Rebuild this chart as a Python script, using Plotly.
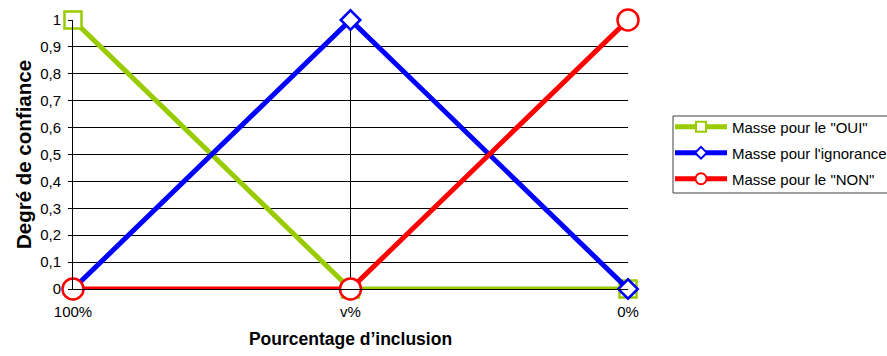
import plotly.graph_objects as go

# Categories along the inclusion axis
categories = ["100%", "v%", "0%"]
positions = [0, 1, 2]

# Masses for each hypothesis
masse_oui = [1, 0, 0]
masse_ignorance = [0, 1, 0]
masse_non = [0, 0, 1]

series_names = ['Masse pour le "OUI"', "Masse pour l'ignorance", 'Masse pour le "NON"']

y_ticks = [0, 0.1, 0.2, 0.3, 0.4, 0.5, 0.6, 0.7, 0.8, 0.9, 1]
y_ticktext = ["0", "0,1", "0,2", "0,3", "0,4", "0,5", "0,6", "0,7", "0,8", "0,9", "1"]

FONT = "Liberation Sans, Arial, sans-serif"

# plot area in pixels
W, H = 887, 356
L, R, T, B = 73, 259, 20, 67
PW, PH = W - L - R, H - T - B


def px_x(p):
    return (p - L) / PW


def px_y(p):
    return (H - B - p) / PH


styles = [
    ("#99cc00", "square", 17, 10),
    ("#0000ff", "diamond", 15, 9),
    ("#ff0000", "circle", 21, 11),
]
legend_ids = ["legend", "legend2", "legend3"]
legend_rows = [127, 153, 179]

fig = go.Figure()

for name, vals, (color, symbol, size, lsize), lid in zip(
        series_names, [masse_oui, masse_ignorance, masse_non], styles, legend_ids):
    fig.add_trace(go.Scatter(
        x=positions, y=vals, name=name, mode="lines+markers", showlegend=False,
        line=dict(color=color, width=5),
        marker=dict(symbol=symbol, size=size, color="white",
                    line=dict(color=color, width=2.5)),
        cliponaxis=False,
    ))
    # legend entry
    fig.add_trace(go.Scatter(
        x=[None], y=[None], name=name, mode="lines+markers", legend=lid,
        line=dict(color=color, width=5),
        marker=dict(symbol=symbol, size=lsize, color="white",
                    line=dict(color=color, width=2)),
    ))

layout_legends = {}
for lid, row in zip(legend_ids, legend_rows):
    layout_legends[lid] = dict(
        x=px_x(670), y=px_y(row), xanchor="left", yanchor="middle",
        bgcolor="rgba(0,0,0,0)", borderwidth=0,
        font=dict(family=FONT, size=15, color="black"), itemwidth=52,
    )

fig.update_layout(
    width=W, height=H,
    margin=dict(l=L, r=R, t=T, b=B, autoexpand=False),
    paper_bgcolor="white", plot_bgcolor="white",
    font=dict(family=FONT, size=15, color="black"),
    xaxis=dict(
        range=[0, 2], tickvals=positions, ticktext=categories,
        showgrid=True, gridcolor="black", gridwidth=1,
        showline=True, linecolor="black", linewidth=1,
        ticks="", zeroline=False, ticklabelstandoff=9,
        tickfont=dict(family=FONT, size=15),
        title=dict(text="Pourcentage d’inclusion", standoff=13,
                   font=dict(family=FONT, size=17.5, weight="bold")),
    ),
    yaxis=dict(
        range=[0, 1], tickvals=y_ticks, ticktext=y_ticktext,
        showgrid=True, gridcolor="black", gridwidth=1,
        showline=True, linecolor="black", linewidth=1,
        ticks="outside", ticklen=4, tickcolor="black",
        zeroline=False, ticklabelstandoff=4,
        tickfont=dict(family=FONT, size=15),
        title=dict(text="Degré de confiance", standoff=2,
                   font=dict(family=FONT, size=20.5, weight="bold")),
    ),
    shapes=[dict(
        type="rect", xref="paper", yref="paper",
        x0=px_x(673), x1=px_x(900), y0=px_y(193), y1=px_y(116),
        line=dict(color="#404040", width=1), fillcolor="white", layer="below",
    )],
    **layout_legends,
)

fig.write_html("out.html")
